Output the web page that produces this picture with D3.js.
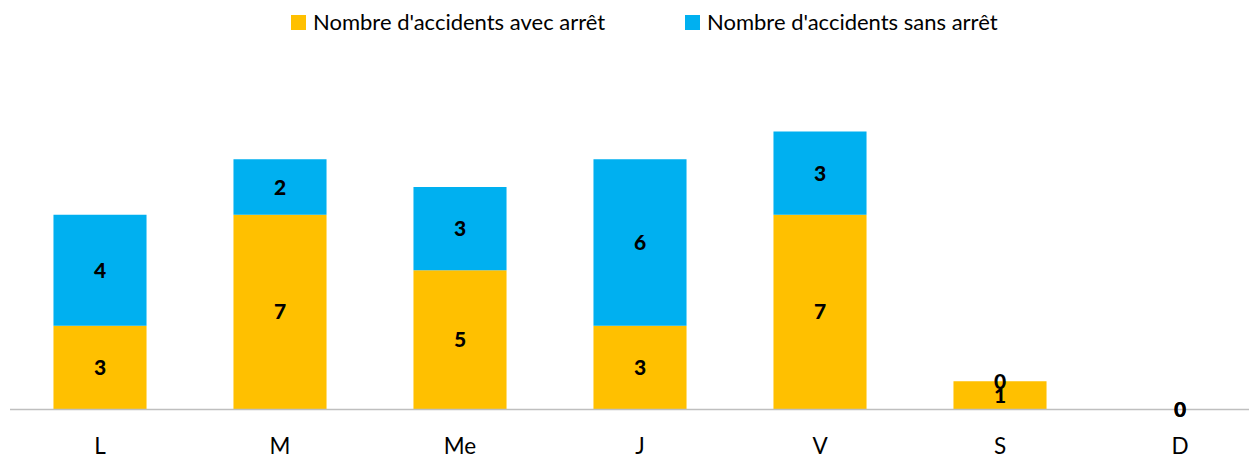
<!DOCTYPE html>
<html><head><meta charset="utf-8">
<script src="https://cdn.jsdelivr.net/npm/d3@7"></script>
<style>body{margin:0;background:#fff}svg{display:block}</style>
</head><body>
<svg id="c" width="1249" height="460"></svg>
<script>
const categories = ["L","M","Me","J","V","S","D"];
const avecArret = [3,7,5,3,7,1,0];
const sansArret = [4,2,3,6,3,0,0];
const seriesNames = ["Nombre d'accidents avec arrêt","Nombre d'accidents sans arrêt"];
const colors = ["#FFC000","#00B0F0"];

const svg = d3.select("#c");
const font = "Lato, 'Open Sans', sans-serif";
const x = d3.scaleBand().domain(categories).range([10,1270]).paddingInner(0.483).paddingOuter(0.2415);
const y = d3.scaleLinear().domain([0,10]).range([409,131.5]);

const rows = categories.map((c,i)=>({cat:c, a:avecArret[i], s:sansArret[i]}));
const stack = d3.stack().keys(["a","s"])(rows);

stack.forEach((layer,k)=>{
  svg.append("g").selectAll("rect").data(layer).join("rect")
    .attr("x",d=>x(d.data.cat)).attr("width",x.bandwidth())
    .attr("y",d=>y(d[1])).attr("height",d=>y(d[0])-y(d[1]))
    .attr("fill",colors[k]);
});

svg.append("line").attr("x1",10).attr("x2",1270).attr("y1",409.5).attr("y2",409.5)
  .attr("stroke","#BFBFBF").attr("stroke-width",1.5);

stack.forEach((layer,k)=>{
  svg.append("g").selectAll("text").data(layer).join("text")
    .attr("x",d=>x(d.data.cat)+x.bandwidth()/2)
    .attr("y",d=>(y(d[0])+y(d[1]))/2)
    .attr("dy","0.36em").attr("text-anchor","middle")
    .attr("font-family",font).attr("font-weight","900").attr("font-size",21)
    .attr("fill","#000").text(d=>d[1]-d[0]);
});

const xa = svg.append("g").attr("transform","translate(0,409)")
  .call(d3.axisBottom(x).tickSize(0).tickPadding(29));
xa.select(".domain").remove();
xa.selectAll("text").attr("font-family",font).attr("font-size",22.5).attr("fill","#000");

const legX = [291,685];
seriesNames.forEach((n,i)=>{
  const g = svg.append("g").attr("transform",`translate(${legX[i]},0)`);
  g.append("rect").attr("x",0).attr("y",15).attr("width",15).attr("height",15).attr("fill",colors[i]);
  g.append("text").attr("x",22).attr("y",22.5).attr("dy","0.36em")
    .attr("font-family",font).attr("font-size",22).attr("fill","#000").text(n);
});
</script>
</body></html>
